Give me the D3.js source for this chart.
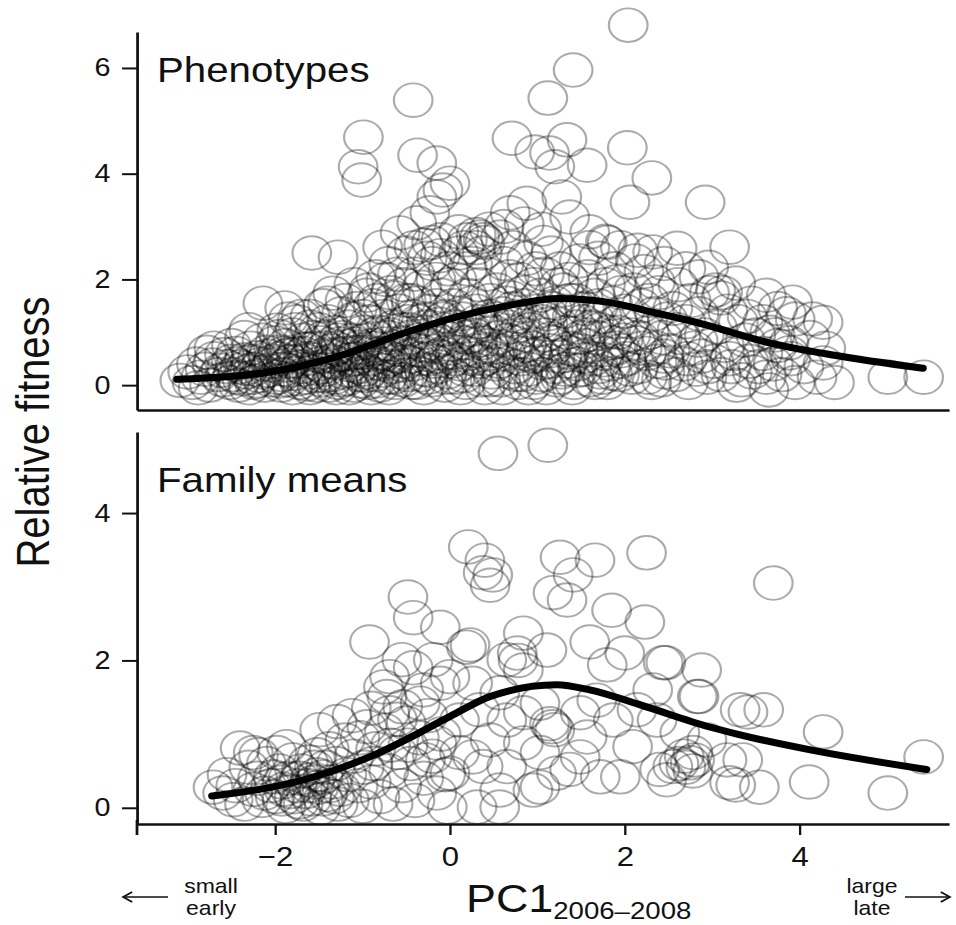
<!DOCTYPE html>
<html>
<head>
<meta charset="utf-8">
<script src="https://cdn.jsdelivr.net/npm/d3@7"></script>
<style>
  body { margin: 0; background: #fff; }
  text { font-family: 'Liberation Sans', Arial, sans-serif; fill: #111; }
</style>
</head>
<body>
<div id="chart"></div>
<script>
// values (PC1, relative fitness)
var xTicks = [-2, 0, 2, 4];
var phenoYTicks = [0, 2, 4, 6];
var familyYTicks = [0, 2, 4];

var phenoCurveX = [-3.12, -2.06, -1.29, -0.53, 0.08, 0.65, 1.25, 1.8, 2.37, 2.86, 3.63, 4.38, 5.41];
var phenoCurveY = [0.11, 0.25, 0.54, 0.98, 1.29, 1.5, 1.64, 1.57, 1.36, 1.17, 0.81, 0.57, 0.32];

var familyCurveX = [-2.72, -1.67, -0.92, -0.11, 0.08, 0.46, 1.22, 1.6, 2.17, 2.96, 3.32, 4.11, 5.45];
var familyCurveY = [0.16, 0.38, 0.69, 1.17, 1.29, 1.51, 1.67, 1.6, 1.4, 1.1, 0.99, 0.79, 0.52];

var phenoPts = [
  [-0.42,5.39],[-0.99,4.69],[-1.05,4.13],[-1.01,3.88],[-0.37,4.35],[-0.15,4.2],[-0.08,3.69],[-0.15,3.56],
  [-1.58,2.5],[-1.28,2.42],[-2.14,1.55],[-1.89,1.46],[-1.34,1.74],[-0.77,2.61],[-0.57,2.88],[-0.38,3.07],
  [-0.23,3.26],[-2.78,0.62],[-3.09,0.09],[-1.98,1.04],
  [2.04,6.81],[1.41,5.96],[1.12,5.43],[0.71,4.67],[0.97,4.41],[1.14,4.39],[1.34,4.64],[1.2,4.13],[1.57,4.16],
  [2.03,4.49],[2.31,3.92],[2.06,3.46],[2.92,3.46],[0,3.82],[0.88,3.44],[0.69,3.26],[1.28,3.56],[1.37,3.18],
  [0.34,2.8],[0.3,2.85],[0.38,2.75],[0.4,2.7],[2.6,2.59],[3.2,2.61],[2.32,2.52],[2.96,2.23],[3.04,1.8],
  [3.27,1.93],[4.27,1.19],[3.92,1.57],[3.62,1.7],[5.01,0.15],[5.42,0.15],[4.27,0.42],[3.88,0.61],[3.65,-0.09],
  [0.62,3.0],[0.85,3.05],[1.05,2.95],[1.6,2.9],[1.78,2.72],[1.95,2.6],[2.15,2.55],[2.45,2.3],[2.7,2.2],
  [2.85,2.05],[3.45,1.55],[3.1,1.65],[3.75,1.45],[3.95,1.25],
  [-0.7,2.3],[-0.5,2.5],[-0.3,2.65],[-0.1,2.75],[-0.85,2.05],[-0.6,2.1],[-0.2,2.3],[0.1,2.5],[0.2,2.2],
  [-1.1,1.9],[-0.95,1.7],[-1.45,1.5],[-1.6,1.3],[-1.75,1.2],[-2.3,1.05],[-2.5,0.75],[-2.7,0.7],
  [-3.0,0.25],[-2.95,0.05],[-2.9,0.4],[-2.85,0.15],[-2.8,0.3],[-2.75,0.0],[-2.7,0.5],[-2.65,0.2],[-2.6,0.1],
  [-2.55,0.35],[-2.5,0.45],[-2.52,0.05],[-2.62,0.28],[-2.88,-0.05],[-2.72,0.38],[-2.58,0.58],
  [-2.48,0.2],[-2.45,0.6],[-2.42,0.0],[-2.4,0.35],[-2.38,0.12],[-2.35,0.48],[-2.32,0.25],[-2.3,-0.05],
  [-2.28,0.7],[-2.25,0.3],[-2.22,0.08],[-2.2,0.52],[-2.18,0.18],[-2.15,0.4],[-2.12,0.0],[-2.1,0.62],
  [-2.08,0.28],[-2.05,0.1],[-2.02,0.45],[-2.0,0.8],[-2.35,0.9],[-2.15,0.85],[-2.45,0.4],[-2.26,0.15],
  [-1.98,0.15],[-1.95,0.5],[-1.93,0.0],[-1.9,0.3],[-1.88,0.75],[-1.85,0.1],[-1.82,0.45],[-1.8,0.95],
  [-1.78,0.22],[-1.75,0.6],[-1.72,0.05],[-1.7,0.35],[-1.68,0.85],[-1.65,0.15],[-1.62,0.5],[-1.6,1.1],
  [-1.58,0.25],[-1.55,0.7],[-1.52,0.0],[-1.5,0.4],[-1.97,0.62],[-1.87,0.38],[-1.77,1.05],[-1.67,0.3],
  [-1.57,0.9],[-1.92,0.2],[-1.83,0.58],[-1.73,0.12],[-1.63,0.68],[-1.53,0.18],[-1.95,0.92],[-1.7,1.3],
  [-1.85,1.25],[-1.6,-0.05],[-1.8,-0.05],
  [-1.48,0.55],[-1.46,0.1],[-1.44,0.9],[-1.42,0.3],[-1.4,1.2],[-1.38,0.0],[-1.36,0.65],[-1.34,0.2],
  [-1.32,1.0],[-1.3,0.42],[-1.28,0.05],[-1.26,0.78],[-1.24,1.35],[-1.22,0.25],[-1.2,0.6],[-1.18,0.12],
  [-1.16,1.1],[-1.14,0.38],[-1.12,0.85],[-1.1,0.0],[-1.08,0.5],[-1.06,1.45],[-1.04,0.2],[-1.02,0.72],
  [-1.0,1.0],[-1.45,0.35],[-1.35,0.45],[-1.25,0.58],[-1.15,0.28],[-1.05,0.35],[-1.42,0.7],[-1.32,0.15],
  [-1.22,0.9],[-1.12,0.6],[-1.02,0.08],[-1.4,1.55],[-1.2,1.6],[-1.1,1.25],[-1.3,-0.05],[-1.15,-0.05],
  [-0.98,0.3],[-0.96,0.85],[-0.94,0.05],[-0.92,1.2],[-0.9,0.5],[-0.88,1.5],[-0.86,0.2],[-0.84,0.7],
  [-0.82,1.0],[-0.8,0.0],[-0.78,0.4],[-0.76,1.3],[-0.74,0.6],[-0.72,0.15],[-0.7,0.9],[-0.68,1.75],
  [-0.66,0.35],[-0.64,1.1],[-0.62,0.05],[-0.6,0.55],[-0.58,1.4],[-0.56,0.25],[-0.54,0.8],[-0.52,1.9],
  [-0.5,0.45],[-0.95,0.62],[-0.85,0.42],[-0.75,0.78],[-0.65,0.15],[-0.55,1.05],[-0.93,1.8],[-0.83,1.6],
  [-0.73,2.0],[-0.63,1.65],[-0.53,0.1],[-0.97,0.18],[-0.87,0.95],[-0.77,0.28],[-0.67,0.5],[-0.57,0.68],
  [-0.9,-0.05],[-0.7,-0.05],
  [-0.48,0.2],[-0.46,0.9],[-0.44,1.6],[-0.42,0.4],[-0.4,2.1],[-0.38,0.05],[-0.36,1.2],[-0.34,0.65],
  [-0.32,1.85],[-0.3,0.3],[-0.28,1.0],[-0.26,2.4],[-0.24,0.5],[-0.22,1.4],[-0.2,0.1],[-0.18,0.8],
  [-0.16,2.0],[-0.14,0.35],[-0.12,1.15],[-0.1,1.7],[-0.08,0.6],[-0.06,0.0],[-0.04,1.3],[-0.02,2.2],
  [0.0,0.45],[-0.45,0.55],[-0.35,0.85],[-0.25,0.15],[-0.15,1.5],[-0.05,0.9],[-0.43,1.3],[-0.33,0.2],
  [-0.23,0.75],[-0.13,0.55],[-0.03,0.25],[-0.47,1.05],[-0.37,1.55],[-0.27,1.25],[-0.17,0.45],[-0.07,1.05],
  [-0.41,2.6],[-0.21,2.7],[-0.11,2.45],[-0.3,-0.05],
  [0.02,0.7],[0.04,1.5],[0.06,0.15],[0.08,2.0],[0.1,0.95],[0.12,0.4],[0.14,1.25],[0.16,2.6],[0.18,0.05],
  [0.2,1.7],[0.22,0.6],[0.24,1.05],[0.26,2.3],[0.28,0.3],[0.3,1.4],[0.32,0.85],[0.34,1.9],[0.36,0.1],
  [0.38,1.15],[0.4,0.5],[0.42,2.1],[0.44,0.75],[0.46,1.6],[0.48,0.25],[0.5,1.0],[0.05,0.5],[0.15,0.8],
  [0.25,1.55],[0.35,0.45],[0.45,1.3],[0.07,1.1],[0.17,0.3],[0.27,0.95],[0.37,2.5],[0.47,0.6],[0.1,2.9],
  [0.2,2.75],[0.3,2.6],[0.45,2.95],[0.12,-0.05],[0.4,-0.05],[0.33,0.65],
  [0.52,0.4],[0.54,1.8],[0.56,0.9],[0.58,0.1],[0.6,1.35],[0.62,2.3],[0.64,0.6],[0.66,1.1],[0.68,0.25],
  [0.7,1.65],[0.72,2.6],[0.74,0.8],[0.76,1.3],[0.78,0.05],[0.8,2.0],[0.82,0.5],[0.84,1.5],[0.86,0.95],
  [0.88,2.4],[0.9,0.3],[0.92,1.2],[0.94,0.7],[0.96,1.9],[0.98,0.15],[1.0,1.4],[0.55,0.65],[0.65,1.55],
  [0.75,0.35],[0.85,1.75],[0.95,0.55],[0.58,2.8],[0.68,2.05],[0.78,1.0],[0.88,0.75],[0.98,2.2],[0.6,-0.05],
  [0.9,-0.05],[0.73,1.25],[0.83,0.2],
  [1.02,0.6],[1.04,1.7],[1.06,0.2],[1.08,2.1],[1.1,0.95],[1.12,1.35],[1.14,0.45],[1.16,2.5],[1.18,0.8],
  [1.2,1.55],[1.22,0.1],[1.24,1.15],[1.26,2.2],[1.28,0.55],[1.3,1.8],[1.32,0.3],[1.34,1.0],[1.36,2.0],
  [1.38,0.7],[1.4,1.3],[1.42,0.05],[1.44,1.6],[1.46,0.4],[1.48,2.35],[1.5,0.9],[1.05,1.2],[1.15,0.65],
  [1.25,1.9],[1.35,0.45],[1.45,1.1],[1.07,2.7],[1.17,1.45],[1.27,0.25],[1.37,1.6],[1.47,0.65],[1.1,-0.05],
  [1.4,-0.05],
  [1.52,0.3],[1.54,1.45],[1.56,0.75],[1.58,2.05],[1.6,0.1],[1.62,1.1],[1.64,0.5],[1.66,1.7],[1.68,0.9],
  [1.7,2.4],[1.72,0.25],[1.74,1.3],[1.76,0.6],[1.78,1.9],[1.8,0.05],[1.82,1.0],[1.84,0.4],[1.86,1.55],
  [1.88,2.2],[1.9,0.7],[1.92,1.2],[1.94,0.2],[1.96,1.75],[1.98,0.85],[2.0,1.4],[1.55,0.55],[1.65,1.25],
  [1.75,0.15],[1.85,0.8],[1.95,0.45],[1.6,2.6],[1.8,2.7],[1.7,1.5],[1.9,1.95],
  [2.02,0.5],[2.05,1.2],[2.08,0.15],[2.1,1.8],[2.13,0.8],[2.16,0.35],[2.19,1.5],[2.22,2.15],[2.25,0.6],
  [2.28,1.0],[2.31,0.05],[2.34,1.35],[2.37,0.45],[2.4,1.75],[2.43,0.9],[2.46,0.25],[2.49,1.25],[2.07,0.95],
  [2.2,0.7],[2.35,1.95],[2.45,0.55],[2.12,2.35],[2.28,1.6],[2.42,0.1],
  [2.52,0.65],[2.55,1.45],[2.58,0.2],[2.61,1.9],[2.64,0.9],[2.67,0.4],[2.7,1.2],[2.73,0.05],[2.76,1.6],
  [2.79,0.7],[2.82,0.3],[2.85,1.35],[2.88,0.55],[2.91,0.95],[2.94,0.15],[2.97,1.75],[2.6,1.05],[2.72,0.5],
  [2.84,0.85],[2.95,0.35],
  [3.02,0.45],[3.06,1.1],[3.1,0.2],[3.14,0.75],[3.18,1.4],[3.22,0.35],[3.26,0.6],[3.3,1.2],[3.34,0.1],
  [3.38,0.85],[3.42,0.45],[3.46,0.25],[3.5,0.95],[3.12,1.75],[3.28,0.0],[3.4,1.3],[3.2,0.5],
  [3.53,0.35],[3.58,0.6],[3.62,0.15],[3.66,1.0],[3.7,0.4],[3.75,0.75],[3.8,0.2],[3.85,1.35],[3.9,0.5],
  [3.95,0.05],[3.58,1.2],[3.72,0.95],[3.88,0.8],
  [4.05,0.35],[4.12,0.9],[4.2,0.15],[4.3,0.7],[4.4,0.05],[4.15,1.25],
  // extra readings in the dark core under the curve
  [-2.44,0.15],[-2.34,0.32],[-2.24,0.05],[-2.14,0.25],[-2.04,0.38],[-1.94,0.08],[-1.84,0.28],[-1.74,0.45],
  [-1.64,0.02],[-1.54,0.32],[-1.44,0.18],[-1.34,0.55],[-1.24,0.1],[-1.14,0.48],[-1.04,0.62],[-0.94,0.25],
  [-0.84,0.08],[-0.74,0.45],[-0.64,0.72],[-0.54,0.38],[-0.44,0.05],[-0.34,0.5],[-0.24,0.28],[-0.14,0.85],
  [-0.04,0.15],[0.06,0.62],[0.16,0.18],[0.26,0.5],[0.36,0.8],[0.46,0.1],[0.56,0.45],[0.66,0.85],[0.76,0.2],
  [0.86,0.6],[0.96,0.05],[1.06,0.42],[1.16,0.88],[1.26,0.15],[1.36,0.62],[1.46,0.28],[1.56,0.95],[1.66,0.05],
  [1.76,0.48],[1.86,0.22],[1.96,0.65],[2.06,0.3],[2.16,0.9],[2.26,0.15],[2.36,0.7],[2.46,0.42],
  [-2.28,0.45],[-2.08,0.55],[-1.88,0.55],[-1.68,0.6],[-1.48,0.8],[-1.28,0.85],[-1.08,0.78],[-0.88,0.75],
  [-0.68,0.95],[-0.48,1.2],[-0.28,1.1],[-0.08,1.25],[0.12,1.35],[0.32,1.2],[0.52,1.25],[0.72,1.45],
  [0.92,1.05],[1.12,1.15],[1.32,1.4],[1.52,1.2],[1.72,1.05],[1.92,1.0],[-1.9,0.6],[-1.3,0.7],[-0.8,0.6],
  [-0.3,0.75],[0.2,0.9],[0.7,0.7],[1.2,0.35],[1.7,0.35],[-1.5,1.05],[-1.0,1.3],[-0.5,1.6],[0.0,1.9]
];

var familyPts = [
  [0.55,4.81],[1.12,4.92],[0.21,3.54],[0.4,3.36],[0.38,3.19],[0.49,3.16],[0.46,3.02],[1.26,3.4],[1.66,3.36],
  [2.25,3.46],[1.41,3.16],[1.18,2.92],[1.34,2.82],[1.85,2.68],[2.23,2.52],[-0.11,2.45],[0.23,2.21],[0.84,2.37],
  [1.11,2.14],[1.6,2.25],[2.0,2.1],[1.8,1.94],[2.44,1.97],[2.88,1.87],[0.65,2.01],[0.78,2.0],[2.32,1.6],
  [2.83,1.51],[3.32,1.33],[1.17,1.1],[1.14,1.14],[1.2,1.06],[2.09,0.83],[1.72,0.42],[1.03,0.28],[0.57,0.24],
  [0.31,0.01],[2.75,0.61],[2.7,0.55],[2.8,0.65],[2.68,0.7],[2.78,0.5],[2.62,0.6],[2.4,0.52],[1.37,0.52],
  [0.11,0.75],[0.38,0.56],
  [3.7,3.05],[4.27,1.03],[4.11,0.35],[5.01,0.2],[5.42,0.69],[3.59,1.33],[3.41,1.3],[3.27,0.31],[3.54,0.28],
  [3.35,0.65],[2.85,1.51],[2.47,1.97],
  [-0.48,2.86],[-0.42,2.58],[-0.92,2.25],[0.19,2.18],[-0.55,2.01],[-0.69,1.78],[-0.42,1.9],[-0.11,1.69],
  [-0.72,1.51],[-0.54,1.37],[-1.29,1.17],[-1.49,1.06],[-1.03,0.95],[-1.87,0.83],[-2.4,0.81],[-2.71,0.28],
  [-2.48,0.11],[-0.19,2.01],[-2.19,0.72],[-1.52,0.72],[-0.15,0.88],[-0.69,1.29],[-0.34,1.42],[-0.76,1.64],
  [0.0,1.78],[0.26,1.69],[0.77,2.1],[0.84,1.87],[0.57,1.56],[1.03,1.42],[0.34,1.33],[0.11,1.19],[0.65,1.19],
  [0.84,1.29],[1.49,1.29],[1.68,1.46],[1.87,1.19],[1.57,0.96],[0.84,0.88],[0.46,0.92],[0.26,0.69],[0.65,0.56],
  [1.03,0.75],[1.22,0.47],[1.49,0.69],[1.95,0.42],[0.0,0.47],[-0.03,0.01],[0.57,0.01],[0.95,0.24],[2.55,0.56],
  [2.78,0.75],[2.63,1.02],[2.37,1.19],[2.14,1.33],[2.94,0.92],[3.17,0.65],[3.2,0.34],[2.48,0.38],
  [-2.6,0.2],[-2.55,0.45],[-2.45,0.3],[-2.35,0.05],[-2.3,0.55],[-2.25,0.25],[-2.2,0.4],[-2.15,0.1],[-2.1,0.6],
  [-2.05,0.3],[-2.0,0.15],[-1.95,0.5],[-1.9,0.25],[-1.88,0.02],[-1.85,0.4],[-1.8,0.65],[-1.78,0.15],[-1.75,0.3],
  [-1.7,0.5],[-1.68,0.05],[-1.65,0.22],[-1.6,0.38],[-1.58,0.12],[-1.55,0.55],[-1.5,0.28],[-1.48,0.0],[-1.45,0.42],
  [-1.4,0.18],[-1.38,0.8],[-1.35,0.35],[-1.3,0.6],[-1.28,0.05],[-1.25,0.25],[-1.2,0.92],[-1.18,0.45],[-1.15,0.1],
  [-1.1,0.7],[-1.05,0.3],[-1.0,0.02],[-0.98,0.55],[-0.95,1.1],[-0.9,0.35],[-0.85,0.8],[-0.8,0.15],[-0.75,1.05],
  [-0.7,0.5],[-0.65,0.05],[-0.6,0.75],[-0.55,0.3],[-0.5,1.15],[-0.45,0.6],[-0.4,0.1],[-0.35,0.95],[-0.3,0.4],
  [-0.25,1.25],[-0.2,0.7],[-0.15,0.2],[-0.1,1.0],[-0.05,0.45],[-1.62,0.62],[-1.42,0.55],[-1.92,0.35],[-2.12,0.2],
  [-1.72,0.4],[-1.52,0.45],[-1.32,0.15],[-0.88,0.6],[-0.68,0.85],[-0.48,0.85],[-0.28,0.65],[-1.12,1.25],
  [-0.9,1.35],[-0.6,1.2],[-0.3,1.6],[-2.25,0.75],[-1.98,0.75],
  [-1.82,0.22],[-1.62,0.3],[-1.45,0.12],[-1.72,0.08],[-1.55,0.35],[-1.38,0.3],[-1.92,0.12],[-2.02,0.42]
];

// the source figure is stretched sideways a little; draw in an inner frame and scale it
var SX = 1.15;
var px = v => v / SX;

var width = 956, height = 925;
var svg = d3.select('#chart').append('svg')
    .attr('width', width)
    .attr('height', height);

var g = svg.append('g').attr('transform', 'scale(' + SX + ',1)');

var x = d3.scaleLinear().domain([-3.58, 5.71]).range([px(137), px(949)]);
var yTop = d3.scaleLinear().domain([-0.47, 6.68]).range([410, 32]);
var yBot = d3.scaleLinear().domain([-0.22, 5.1]).range([824, 432]);

var line = d3.line().curve(d3.curveMonotoneX);

function panel(pts, cx, cy, y, yTicks, label, labelY) {
    var p = g.append('g');

    p.selectAll('circle')
        .data(pts)
        .enter()
        .append('circle')
        .attr('cx', d => x(d[0]))
        .attr('cy', d => y(d[1]))
        .attr('r', 16.8)
        .attr('fill', 'none')
        .attr('stroke', '#000')
        .attr('stroke-opacity', 0.33)
        .attr('stroke-width', 1.9);

    p.append('path')
        .attr('d', line(cx.map((v, i) => [x(v), y(cy[i])])))
        .attr('fill', 'none')
        .attr('stroke', '#000')
        .attr('stroke-width', 7)
        .attr('stroke-linecap', 'round');

    var ya = p.append('g')
        .attr('transform', 'translate(' + px(137) + ',0)')
        .call(d3.axisLeft(y).tickValues(yTicks).tickFormat(d3.format('d'))
            .tickSize(13).tickSizeOuter(0).tickPadding(10));
    ya.attr('font-size', 25).attr('font-family', null);
    ya.select('.domain').attr('stroke', '#111').attr('stroke-width', 2.4);
    ya.selectAll('.tick line').attr('stroke', '#111').attr('stroke-width', 2);
    ya.selectAll('.tick text').attr('fill', '#111');

    p.append('text')
        .attr('x', px(157))
        .attr('y', labelY)
        .style('font-size', '35px')
        .text(label);
    return p;
}

var topPanel = panel(phenoPts, phenoCurveX, phenoCurveY, yTop, phenoYTicks, 'Phenotypes', 82);
var botPanel = panel(familyPts, familyCurveX, familyCurveY, yBot, familyYTicks, 'Family means', 492);

// top panel bottom line, no ticks
var xa1 = topPanel.append('g')
    .attr('transform', 'translate(0,410)')
    .call(d3.axisBottom(x).tickValues([]).tickSizeOuter(0));
xa1.select('.domain').attr('stroke', '#111').attr('stroke-width', 2.4);

// bottom panel x axis
var xa2 = botPanel.append('g')
    .attr('transform', 'translate(0,824)')
    .call(d3.axisBottom(x).tickValues(xTicks).tickSize(11).tickSizeOuter(0).tickPadding(12));
xa2.attr('font-size', 27).attr('font-family', null);
xa2.select('.domain').attr('stroke', '#111').attr('stroke-width', 2.4);
xa2.selectAll('.tick line').attr('stroke', '#111').attr('stroke-width', 2);
xa2.selectAll('.tick text').attr('fill', '#111');

// y axis line runs a bit past the x axis
botPanel.append('line')
    .attr('x1', px(137)).attr('x2', px(137))
    .attr('y1', 820).attr('y2', 835)
    .attr('stroke', '#111').attr('stroke-width', 2.4);

// y label
g.append('text')
    .attr('transform', 'translate(' + px(49) + ',432) rotate(-90)')
    .attr('text-anchor', 'middle')
    .style('font-size', '40px')
    .text('Relative fitness');

// x label with subscript
var xl = g.append('text')
    .attr('x', px(466))
    .attr('y', 912)
    .style('font-size', '39px');
xl.append('tspan').text('PC1');
xl.append('tspan').attr('dy', 7).style('font-size', '24px').text('2006\u20132008');

// direction notes
function note(cxp, t1, t2) {
    g.append('text').attr('x', px(cxp)).attr('y', 893).attr('text-anchor', 'middle')
        .style('font-size', '20px').text(t1);
    g.append('text').attr('x', px(cxp)).attr('y', 915).attr('text-anchor', 'middle')
        .style('font-size', '20px').text(t2);
}
note(211, 'small', 'early');
note(872, 'large', 'late');

function arrow(x1, x2) {
    var dir = x2 > x1 ? 1 : -1;
    var a = g.append('g').attr('stroke', '#111').attr('stroke-width', 1.6).attr('fill', 'none');
    a.append('line').attr('x1', px(x1)).attr('x2', px(x2)).attr('y1', 897).attr('y2', 897);
    a.append('path').attr('d',
        'M' + (px(x2) - dir * 8) + ',892 L' + px(x2) + ',897 L' + (px(x2) - dir * 8) + ',902');
}
arrow(168, 123);
arrow(905, 950);
</script>
</body>
</html>
